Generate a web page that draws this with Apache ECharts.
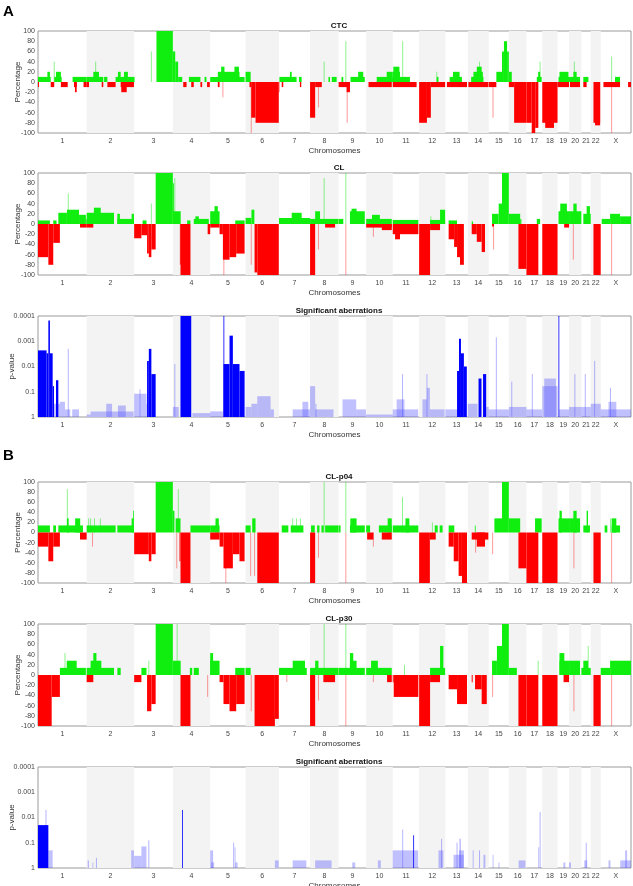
<!DOCTYPE html>
<html>
<head>
<meta charset="utf-8">
<script src="https://cdn.jsdelivr.net/npm/echarts@6/dist/echarts.min.js"></script>
<style>
  html, body { margin: 0; padding: 0; background: #fff; }
  #chart { width: 633px; height: 886px; }
</style>
</head>
<body>
<div id="chart"></div>
<script>
// chromosomes and their lengths (Mb)
const chromosomes = ['1','2','3','4','5','6','7','8','9','10','11','12','13','14','15','16','17','18','19','20','21','22','X'];
const chromLengths = [249,243,198,191,181,171,159,146,141,136,135,134,115,107,103,90,81,78,59,63,48,51,155];

// segments: [chromosome, start Mb, end Mb, percentage]
const ctcGain = [
  ['1',0,65,10],['1',48,61,20],['1',83,121,10],['1',92,117,20],['1',177,249,10],
  ['2',0,85,10],['2',34,63,20],['2',89,106,10],['2',148,245,10],['2',160,174,20],['2',191,211,20],
  ['3',114,198,100],
  ['4',0,12,60],['4',12,27,40],['4',27,48,10],['4',82,141,10],['4',162,172,10],
  ['5',0,176,10],['5',39,150,20],['5',56,73,30],['5',124,147,30],
  ['6',0,26,20],
  ['7',2,90,10],['7',56,65,20],['7',102,116,10],
  ['8',94,102,10],['8',111,136,10],
  ['9',15,24,10],['9',61,134,10],['9',100,126,20],
  ['10',54,136,10],['10',105,136,20],
  ['11',0,37,20],['11',3,34,30],['11',37,88,10],
  ['12',90,99,10],
  ['13',22,85,10],['13',39,73,20],
  ['14',17,80,10],['14',29,77,20],['14',46,71,30],
  ['15',39,68,20],['15',68,78,60],['15',78,94,80],['15',94,103,60],
  ['16',0,15,20],
  ['17',53,78,10],['17',60,70,20],
  ['19',5,59,10],['19',10,56,20],
  ['20',0,56,10],['20',22,39,20],
  ['21',10,36,10],
  ['X',73,99,10]
];
const ctcLoss = [
  ['1',0,5,-10],['1',65,83,-10],['1',117,152,-10],['1',184,198,-10],['1',189,198,-20],['1',233,249,-10],
  ['2',0,12,-10],['2',77,85,-10],['2',106,148,-10],['2',174,242,-10],['2',177,205,-20],
  ['4',53,70,-10],['4',94,107,-10],['4',141,150,-10],['4',175,189,-10],
  ['5',39,48,-10],
  ['6',20,29,-10],['6',29,51,-70],['6',51,170,-80],
  ['7',14,22,-10],['7',107,114,-10],
  ['8',0,26,-70],['8',26,60,-10],
  ['9',0,58,-10],['9',41,58,-20],
  ['10',12,131,-10],
  ['11',0,122,-10],
  ['12',0,40,-80],['12',40,60,-70],['12',60,133,-10],
  ['13',8,111,-10],
  ['14',3,105,-10],
  ['15',0,39,-10],
  ['16',0,27,-10],['16',27,90,-80],
  ['17',0,27,-80],['17',27,45,-100],['17',45,61,-90],
  ['18',0,78,-80],['18',15,60,-90],
  ['19',0,59,-10],
  ['20',5,56,-10],
  ['21',10,27,-10],
  ['22',14,48,-80],['22',22,48,-85],
  ['X',14,99,-10],['X',140,155,-10]
];
// thin faint spikes: [chromosome, position Mb, percentage]
const ctcSpikes = [
  ['1',83,40],['2',46,40],['3',88,60],['6',29,-100],['5',65,-30],['8',72,40],['8',43,-50],
  ['9',37,80],['9',44,-80],['11',51,80],['12',90,20],['14',60,40],['15',22,-70],
  ['17',70,40],['20',27,40],['X',56,50],['X',56,-100],['7',2,-20]
];

const clGain = [
  ['1',0,61,7],['1',78,95,7],['1',104,148,22],['1',148,210,28],['1',210,245,18],['1',245,249,10],
  ['2',0,140,22],['2',37,72,32],['2',157,242,10],['2',157,170,20],['2',230,242,20],
  ['3',43,63,7],['3',110,198,100],
  ['4',0,5,80],['4',0,40,25],['4',73,90,7],['4',107,184,10],['4',115,133,15],
  ['5',0,48,25],['5',22,39,35],['5',128,176,7],
  ['6',0,30,12],['6',30,45,28],
  ['7',0,159,12],['7',65,116,22],
  ['8',0,145,10],['8',26,51,25],
  ['9',0,24,10],['9',58,134,25],['9',66,92,30],
  ['10',0,131,10],['10',30,70,18],
  ['11',0,131,8],
  ['12',56,133,8],['12',107,133,28],
  ['13',17,60,7],
  ['14',20,27,5],
  ['15',17,51,20],['15',51,68,40],['15',68,103,100],
  ['16',0,58,20],['16',58,64,10],
  ['17',53,70,10],
  ['19',5,59,25],['19',14,48,40],
  ['20',0,63,25],['20',22,39,40],
  ['21',10,48,20],['21',27,44,35],
  ['X',5,48,10],['X',48,99,20],['X',99,155,15]
];
const clLoss = [
  ['1',0,53,-65],['1',53,78,-80],['1',78,112,-37],['1',215,249,-7],
  ['2',0,34,-7],
  ['3',0,37,-28],['3',37,66,-22],['3',66,75,-58],['3',75,88,-65],['3',88,110,-50],
  ['4',36,39,-80],['4',39,90,-100],['4',178,191,-20],
  ['5',0,48,-7],['5',48,65,-20],['5',65,99,-70],['5',99,133,-65],['5',133,176,-58],
  ['6',46,60,-95],['6',60,170,-100],
  ['8',0,26,-100],['8',77,128,-7],
  ['10',0,131,-7],['10',80,131,-12],
  ['11',0,131,-20],['11',12,37,-30],
  ['12',0,56,-100],['12',56,107,-12],
  ['13',17,45,-30],['13',45,60,-45],['13',60,75,-65],['13',75,95,-80],
  ['14',20,46,-20],['14',46,71,-35],['14',71,88,-55],
  ['15',17,27,-5],
  ['16',49,90,-88],
  ['17',0,61,-100],
  ['18',0,78,-100],
  ['19',34,59,-7],
  ['22',14,51,-100]
];
const clSpikes = [
  ['1',155,60],['4',10,90],['5',70,-100],['6',29,-80],['8',72,90],['8',43,-50],['9',37,100],
  ['9',37,-100],['10',37,-25],['15',25,-50],['20',22,-70],['X',56,-100],['3',88,40],['12',60,15]
];

// p-values: [chromosome, start Mb, end Mb, p]
const sigAStrong = [
  ['1',0,44,0.0023],['1',44,53,0.003],['1',53,61,0.00015],['1',61,75,0.003],['1',75,82,0.06],['1',92,104,0.035],
  ['3',66,75,0.006],['3',75,88,0.002],['3',88,110,0.02],
  ['4',39,94,0.0001],
  ['5',68,71,0.0001],['5',68,99,0.008],['5',99,116,0.0006],['5',116,150,0.008],['5',150,176,0.015],
  ['13',60,70,0.015],['13',70,80,0.0008],['13',80,95,0.003],['13',95,110,0.01],
  ['14',55,70,0.03],['14',78,94,0.02],
  ['19',5,7,0.0001]
];
const sigAWeak = [
  ['1',75,112,0.3],['1',112,138,0.25],['1',138,165,0.5],['1',175,210,0.5],
  ['2',0,20,0.8],['2',20,240,0.6],['2',100,130,0.3],['2',160,200,0.35],
  ['3',0,63,0.12],['3',63,66,0.3],
  ['4',0,30,0.4],['4',100,191,0.7],
  ['5',0,65,0.6],
  ['6',0,30,0.4],['6',30,60,0.3],['6',60,128,0.15],['6',128,145,0.5],
  ['7',70,159,0.5],['7',120,150,0.25],
  ['8',0,26,0.06],['8',26,120,0.5],
  ['9',20,90,0.2],['9',90,140,0.5],
  ['10',0,136,0.8],
  ['11',0,130,0.5],['11',20,60,0.2],
  ['12',17,40,0.2],['12',40,55,0.07],['12',55,130,0.5],
  ['13',0,60,0.5],
  ['14',0,50,0.3],['14',94,107,0.4],
  ['15',0,103,0.5],
  ['16',0,90,0.4],
  ['17',0,80,0.5],
  ['18',0,78,0.06],['18',10,70,0.03],
  ['19',8,59,0.5],
  ['20',0,63,0.4],
  ['21',0,48,0.4],
  ['22',0,51,0.3],
  ['X',0,155,0.5],['X',40,80,0.25]
];
const sigASpikes = [
  ['1',155,0.002],['4',10,0.008],['15',39,0.0007],['3',30,0.08],['8',30,0.3],['22',20,0.006],
  ['21',20,0.02],['16',15,0.04],['20',30,0.02],['11',50,0.02],['12',40,0.02],['X',50,0.07],['17',30,0.02]
];

const p04Gain = [
  ['1',0,61,14],['1',78,92,14],['1',104,230,14],['1',148,157,28],['1',190,216,28],
  ['2',0,148,14],['2',157,242,14],['2',230,240,28],['2',238,242,43],
  ['3',110,198,100],
  ['4',0,8,43],['4',14,39,28],['4',90,191,14],
  ['5',0,48,14],['5',27,44,28],
  ['6',0,26,14],['6',34,51,28],
  ['7',14,48,14],['7',60,125,14],
  ['8',5,24,14],['8',36,48,14],['8',58,70,14],['8',77,145,14],
  ['9',0,10,14],['9',58,134,14],['9',60,92,28],
  ['10',0,20,14],['10',65,131,14],['10',110,131,28],
  ['11',0,131,14],['11',65,85,28],
  ['12',80,95,14],['12',105,120,14],
  ['13',17,46,14],
  ['14',36,40,14],
  ['15',29,68,28],['15',68,103,100],
  ['16',0,58,28],
  ['17',44,78,28],
  ['19',5,59,28],['19',10,22,43],
  ['20',0,56,28],['20',22,39,43],
  ['21',10,44,14],['21',27,34,43],
  ['X',20,34,14],['X',56,99,14],['X',56,80,28]
];
const p04Loss = [
  ['1',0,53,-28],['1',53,78,-57],['1',78,112,-28],['1',215,249,-14],
  ['3',0,75,-43],['3',75,88,-57],['3',88,110,-43],
  ['4',34,39,-57],['4',39,90,-100],
  ['5',0,48,-14],['5',48,68,-28],['5',68,116,-71],['5',116,150,-43],['5',150,176,-57],
  ['6',60,170,-100],
  ['8',0,26,-100],
  ['10',5,37,-14],['10',80,131,-14],
  ['12',0,55,-100],['12',55,85,-14],
  ['13',17,43,-28],['13',43,68,-57],['13',68,85,-86],['13',85,111,-100],
  ['14',20,105,-14],['14',46,88,-28],
  ['16',49,90,-71],
  ['17',0,61,-100],
  ['18',0,78,-100],
  ['22',14,51,-100]
];
const p04Spikes = [
  ['1',150,86],['2',30,-28],['2',10,28],['2',20,28],['2',40,28],['2',70,28],['4',28,86],['4',20,-71],
  ['5',80,-100],['6',26,-86],['6',46,-86],['7',70,28],['7',90,28],['7',110,28],['8',72,100],['8',43,-50],
  ['9',37,100],['9',37,-100],['10',37,-28],['11',50,70],['12',68,20],['15',20,-43],['20',25,-71],
  ['X',56,-100],['14',40,-40],['X',50,28]
];

const p30Gain = [
  ['1',112,245,14],['1',147,198,28],
  ['2',0,140,14],['2',20,75,28],['2',34,50,43],['2',157,174,14],
  ['3',37,63,14],['3',110,198,100],
  ['4',0,40,28],['4',87,99,14],['4',107,133,14],
  ['5',0,48,28],['5',0,15,43],['5',128,176,14],
  ['6',0,26,14],
  ['7',0,142,14],['7',70,133,28],
  ['8',0,145,14],['8',26,43,28],
  ['9',0,134,14],['9',58,92,28],['9',58,75,43],
  ['10',0,131,14],['10',25,60,28],
  ['12',56,133,14],['12',107,124,57],
  ['15',17,42,28],['15',42,68,57],['15',68,103,100],
  ['16',0,41,14],
  ['19',10,59,28],['19',10,35,43],
  ['20',0,56,28],
  ['21',0,48,14],['21',10,35,28],
  ['X',0,48,14],['X',48,155,28]
];
const p30Loss = [
  ['1',0,70,-100],['1',70,112,-43],
  ['2',0,34,-14],
  ['3',0,37,-14],['3',66,88,-71],['3',88,110,-57],
  ['4',39,90,-100],
  ['5',48,68,-14],['5',68,99,-57],['5',99,133,-71],['5',133,176,-57],
  ['6',46,150,-100],['6',150,170,-86],
  ['8',0,26,-100],['8',68,128,-14],
  ['10',107,131,-14],
  ['11',0,5,-14],['11',5,131,-43],
  ['12',0,56,-100],['12',56,107,-14],
  ['13',17,60,-28],['13',60,111,-57],
  ['14',20,25,-14],['14',37,71,-28],['14',71,97,-57],
  ['16',49,90,-100],
  ['17',0,61,-100],
  ['18',0,78,-100],
  ['19',31,59,-14],
  ['22',14,51,-100]
];
const p30Spikes = [
  ['1',138,43],['4',22,100],['3',75,28],['4',178,-43],['6',29,-71],['7',40,-14],['8',72,100],
  ['9',37,100],['9',37,-100],['8',43,-50],['10',37,-14],['11',60,20],['15',20,-43],['20',25,-71],
  ['X',56,-100],['17',60,28],['21',35,57]
];

const sigBStrong = [
  ['1',0,53,0.02],['4',47,49,0.005],['11',105,107,0.05]
];
const sigBWeak = [
  ['1',53,75,0.2],
  ['2',5,12,0.5],['2',30,32,0.6],['2',228,242,0.2],
  ['3',0,37,0.33],['3',37,63,0.14],
  ['5',0,15,0.2],['5',5,20,0.6],['5',125,130,0.15],['5',128,140,0.6],
  ['6',150,170,0.5],
  ['7',70,140,0.5],
  ['8',26,110,0.5],
  ['9',70,85,0.6],
  ['10',60,75,0.5],
  ['11',0,130,0.2],
  ['12',99,124,0.2],
  ['13',42,94,0.3],['13',70,95,0.2],['13',72,80,0.07],
  ['14',25,30,0.2],['14',80,90,0.3],
  ['15',20,25,0.3],['15',50,55,0.6],
  ['16',50,85,0.5],
  ['17',60,65,0.15],
  ['19',30,40,0.6],
  ['20',0,10,0.6],
  ['21',15,30,0.5],
  ['X',40,50,0.5],['X',100,155,0.5],['X',125,135,0.2]
];
const sigBSpikes = [
  ['1',41,0.005],['17',70,0.006],['11',51,0.03],['12',115,0.07],['13',60,0.1],['3',75,0.08],
  ['2',50,0.4],['5',120,0.1],['14',60,0.2],['21',25,0.1]
];

// genome offsets
const offsets = {};
let genomeLength = 0;
chromosomes.forEach((c, i) => { offsets[c] = genomeLength; genomeLength += chromLengths[i]; });
const centers = chromosomes.map((c, i) => offsets[c] + chromLengths[i] / 2);
const bands = chromosomes.map((c, i) => [offsets[c], offsets[c] + chromLengths[i]]).filter((b, i) => i % 2 === 1);

const toSeg = arr => arr.map(s => [offsets[s[0]] + s[1], offsets[s[0]] + s[2], s[3]]);
const toSpike = arr => arr.map(s => [offsets[s[0]] + s[1], s[2]]);

const panels = [
  { title: 'CTC', top: 31, h: 102, kind: 'pct', a: ctcGain, b: ctcLoss, spikes: ctcSpikes },
  { title: 'CL', top: 173, h: 102, kind: 'pct', a: clGain, b: clLoss, spikes: clSpikes },
  { title: 'Significant aberrations', top: 316, h: 101, kind: 'p', a: sigAWeak, b: sigAStrong, spikes: sigASpikes },
  { title: 'CL-p04', top: 482, h: 101, kind: 'pct', a: p04Gain, b: p04Loss, spikes: p04Spikes },
  { title: 'CL-p30', top: 624, h: 102, kind: 'pct', a: p30Gain, b: p30Loss, spikes: p30Spikes },
  { title: 'Significant aberrations', top: 767, h: 101, kind: 'p', a: sigBWeak, b: sigBStrong, spikes: sigBSpikes }
];

const GREEN = '#10ee10', RED = '#ff0000', BLUE = '#0000ff';
const LIGHT_BLUE = 'rgba(90,90,255,0.38)';

function segRender(base) {
  return function (params, api) {
    const a = api.coord([api.value(0), base]);
    const b = api.coord([api.value(1), api.value(2)]);
    return {
      type: 'rect',
      shape: { x: a[0], y: Math.min(a[1], b[1]), width: Math.max(b[0] - a[0], 0.8), height: Math.abs(b[1] - a[1]) },
      style: { fill: api.visual('color') }
    };
  };
}
function spikeRender(base, posColor, negColor) {
  return function (params, api) {
    const v = api.value(1);
    const a = api.coord([api.value(0), base]);
    const b = api.coord([api.value(0), v]);
    return {
      type: 'line',
      shape: { x1: a[0], y1: a[1], x2: b[0], y2: b[1] },
      style: { stroke: v >= base && base === 0 ? posColor : negColor, lineWidth: 1 }
    };
  };
}
function bandRender(ref) {
  return function (params, api) {
    const a = api.coord([api.value(0), ref]);
    const b = api.coord([api.value(1), ref]);
    const cs = params.coordSys;
    return { type: 'rect', shape: { x: a[0], y: cs.y, width: b[0] - a[0], height: cs.height }, style: { fill: '#f3f3f3' } };
  };
}

const grid = [], xAxis = [], yAxis = [], series = [], title = [];
panels.forEach((p, i) => {
  grid.push({ left: 38, right: 2, top: p.top, height: p.h, show: true, borderColor: '#9a9a9a', borderWidth: 1,
    backgroundColor: '#fff', containLabel: false, outerBoundsMode: 'none' });
  title.push({ text: p.title, left: 334, top: p.top - 14, textAlign: 'center',
    textStyle: { fontSize: 8, fontWeight: 'bold', fontFamily: 'Arial', color: '#111' } });
  xAxis.push({
    gridIndex: i, type: 'value', min: 0, max: genomeLength,
    axisLine: { show: false }, splitLine: { show: false },
    axisTick: { show: false },
    axisLabel: {
      customValues: centers, fontSize: 7, color: '#444', margin: 5, fontFamily: 'Arial',
      formatter: v => {
        let best = 0;
        centers.forEach((c, k) => { if (Math.abs(c - v) < Math.abs(centers[best] - v)) best = k; });
        return chromosomes[best];
      }
    },
    name: 'Chromosomes', nameLocation: 'middle', nameGap: 14, nameMoveOverlap: false,
    nameTextStyle: { fontSize: 8, color: '#333', fontFamily: 'Arial' }
  });
  if (p.kind === 'pct') {
    yAxis.push({
      gridIndex: i, type: 'value', min: -100, max: 100, interval: 20,
      axisLine: { show: false }, axisTick: { show: false }, splitLine: { show: false },
      axisLabel: { fontSize: 7, color: '#444', margin: 3, fontFamily: 'Arial' },
      name: 'Percentage', nameLocation: 'middle', nameGap: 16, nameMoveOverlap: false,
      nameTextStyle: { fontSize: 8, color: '#333', fontFamily: 'Arial' }
    });
  } else {
    yAxis.push({
      gridIndex: i, type: 'log', logBase: 10, min: 0.0001, max: 1, inverse: true,
      axisLine: { show: false }, axisTick: { show: false }, splitLine: { show: false },
      axisLabel: {
        fontSize: 7, color: '#444', margin: 3, fontFamily: 'Arial',
        formatter: v => { const e = Math.round(Math.log10(v)); return e === 0 ? '1' : Math.pow(10, e).toFixed(-e); }
      },
      name: 'p-value', nameLocation: 'middle', nameGap: 22, nameMoveOverlap: false,
      nameTextStyle: { fontSize: 8, color: '#333', fontFamily: 'Arial' }
    });
  }
  const base = p.kind === 'pct' ? 0 : 1;
  series.push({
    type: 'custom', xAxisIndex: i, yAxisIndex: i, silent: true, clip: true,
    renderItem: bandRender(base), data: bands, encode: { x: [0, 1] }
  });
  series.push({
    type: 'custom', xAxisIndex: i, yAxisIndex: i, silent: true, clip: true,
    renderItem: spikeRender(base, 'rgba(0,230,0,0.45)', p.kind === 'pct' ? 'rgba(255,0,0,0.4)' : 'rgba(90,90,255,0.45)'),
    data: toSpike(p.spikes), encode: { x: 0, y: 1 }
  });
  series.push({
    type: 'custom', xAxisIndex: i, yAxisIndex: i, silent: true, clip: true,
    renderItem: segRender(base), data: toSeg(p.a), encode: { x: [0, 1], y: 2 },
    itemStyle: { color: p.kind === 'pct' ? GREEN : LIGHT_BLUE }
  });
  series.push({
    type: 'custom', xAxisIndex: i, yAxisIndex: i, silent: true, clip: true,
    renderItem: segRender(base), data: toSeg(p.b), encode: { x: [0, 1], y: 2 },
    itemStyle: { color: p.kind === 'pct' ? RED : BLUE }
  });
});

const chart = echarts.init(document.getElementById('chart'), null, { renderer: 'canvas' });
chart.setOption({
  animation: false,
  backgroundColor: '#fff',
  title, grid, xAxis, yAxis, series,
  graphic: [
    { type: 'text', left: 3, top: 4, style: { text: 'A', font: 'bold 15px Arial', fill: '#000' } },
    { type: 'text', left: 3, top: 448, style: { text: 'B', font: 'bold 15px Arial', fill: '#000' } }
  ]
});
</script>
</body>
</html>
